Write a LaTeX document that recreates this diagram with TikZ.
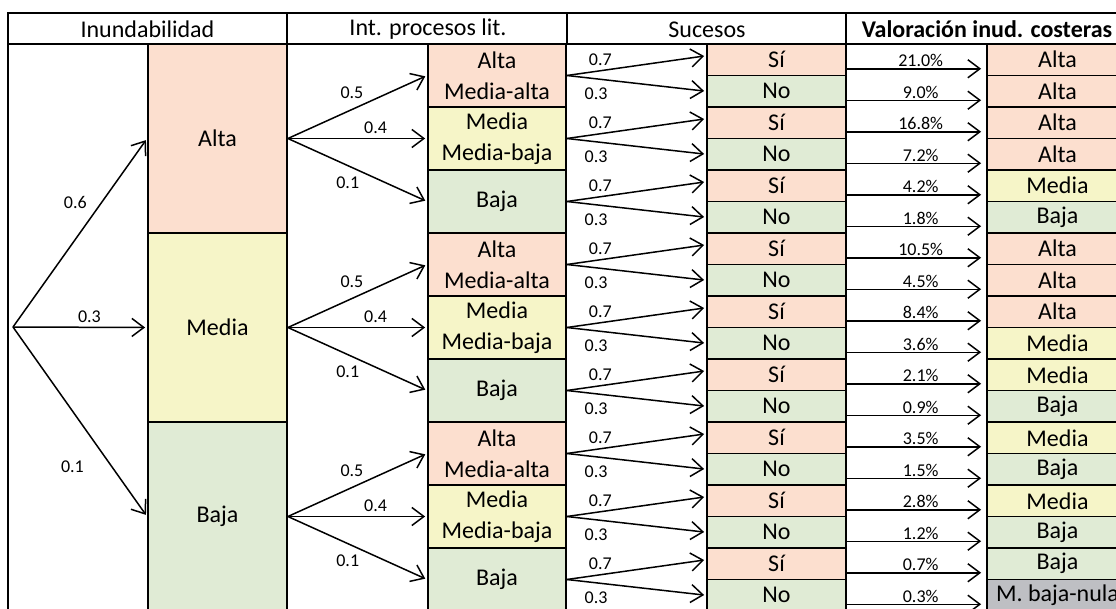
\documentclass[tikz,border=0pt]{standalone}
\usepackage{fontspec}
\setmainfont{Carlito}
\usetikzlibrary{arrows.meta}
\definecolor{alta}{HTML}{FCDFCF}
\definecolor{media}{HTML}{F6F5C8}
\definecolor{baja}{HTML}{E0EBD5}
\definecolor{nula}{HTML}{BEBFC3}
\tikzset{
  marco/.style={line width=2.2pt},
  caja/.style={draw=black, line width=1.8pt, inner sep=0pt, align=center,
    font=\fontsize{24}{31}\selectfont},
  titulo/.style={font=\fontsize{24}{31}\selectfont},
  proc/.style={minimum width=138pt, minimum height=63pt},
  fila/.style={minimum width=139pt, minimum height=31.5pt},
  flecha/.style={-{Straight Barb[length=12pt,width=18pt]}, line width=1.5pt, shorten >=2pt},
  prob/.style={font=\fontsize{18}{20}\selectfont, inner sep=1pt},
}
\begin{document}
\begin{tikzpicture}[x=1pt,y=-1pt]
\useasboundingbox (0,0) rectangle (1116,608);
\clip (0,0) rectangle (1116,608);
% cabecera
\draw[marco] (8,640) -- (8,13) -- (1140,13);
\draw[marco] (8,44) -- (1140,44);
\draw[marco] (287,13) -- (287,44);
\draw[marco] (567,13) -- (567,44);
\draw[marco] (846,13) -- (846,44);
\node[titulo] (t1) at (147.5,29.5) {Inundabilidad};
\node[titulo] (t2) at (428,29.5) {Int. procesos lit.};
\node[titulo] (t3) at (707,29.5) {Sucesos};
\node[titulo, font=\fontsize{24}{31}\selectfont\bfseries] (t4) at (987,29.5) {Valoración inud. costeras};
% inundabilidad
\coordinate (raiz) at (13,327);
\foreach \g/\nivel/\col in {0/Alta/alta,1/Media/media,2/Baja/baja}{
  \node[caja, fill=\col, minimum width=139pt, minimum height=189pt] (inu\g) at (217.5,{138.5+189*\g}) {\nivel};
}
\draw[flecha] (raiz) -- (inu0.west) node[prob, pos=0.66, left=13pt] {0.6};
\draw[flecha] (raiz) -- (inu1.west) node[prob, pos=0.57, above=3pt] {0.3};
\draw[flecha] (raiz) -- (inu2.west) node[prob, pos=0.735, left=26pt] {0.1};
% procesos litorales
\foreach \g in {0,1,2}{
  \pgfmathtruncatemacro\ka{3*\g}
  \pgfmathtruncatemacro\kb{3*\g+1}
  \pgfmathtruncatemacro\kc{3*\g+2}
  \node[caja, fill=alta, proc] (p\ka) at (497,{75.5+189*\g}) {Alta\\Media-alta};
  \node[caja, fill=media, proc] (p\kb) at (497,{138.5+189*\g}) {Media\\Media-baja};
  \node[caja, fill=baja, proc] (p\kc) at (497,{201.5+189*\g}) {Baja};
  \draw[flecha] (inu\g.east) -- (p\ka.west) node[prob, pos=0.46, above=9pt] {0.5};
  \draw[flecha] (inu\g.east) -- (p\kb.west) node[prob, pos=0.63, above=3pt] {0.4};
  \draw[flecha] (inu\g.east) -- (p\kc.west) node[prob, pos=0.43, below=9pt] {0.1};
}
% sucesos
\foreach \n in {0,...,17}{
  \ifodd\n \def\txt{No}\def\col{baja}\else \def\txt{Sí}\def\col{alta}\fi
  \node[caja, fill=\col, fila] (s\n) at (776.5,{59.75+31.5*\n}) {\txt};
}
\foreach \k in {0,...,8}{
  \pgfmathtruncatemacro\si{2*\k}
  \pgfmathtruncatemacro\no{2*\k+1}
  \draw[flecha] (p\k.east) -- ([yshift=4pt]s\si.west) node[prob, pos=0.24, above=3pt] {0.7};
  \draw[flecha] (p\k.east) -- (s\no.west) node[prob, pos=0.21, below=7pt] {0.3};
}
% valoracion
\foreach \n/\txt/\col/\pct in {0/Alta/alta/21.0, 1/Alta/alta/9.0, 2/Alta/alta/16.8,
  3/Alta/alta/7.2, 4/Media/media/4.2, 5/Baja/baja/1.8, 6/Alta/alta/10.5,
  7/Alta/alta/4.5, 8/Alta/alta/8.4, 9/Media/media/3.6, 10/Media/media/2.1,
  11/Baja/baja/0.9, 12/Media/media/3.5, 13/Baja/baja/1.5, 14/Media/media/2.8,
  15/Baja/baja/1.2, 16/Baja/baja/0.7, 17/M. baja-nula/nula/0.3}{
  \node[caja, fill=\col, fila, minimum width=141pt] (v\n) at (1057.5,{59.75+31.5*\n}) {\txt};
  \draw[flecha, shorten >=5pt] ([yshift=-9pt]s\n.east) -- ([yshift=-9pt]v\n.west)
    node[prob, pos=0.53, above] {\pct\%};
}
\end{tikzpicture}
\end{document}
